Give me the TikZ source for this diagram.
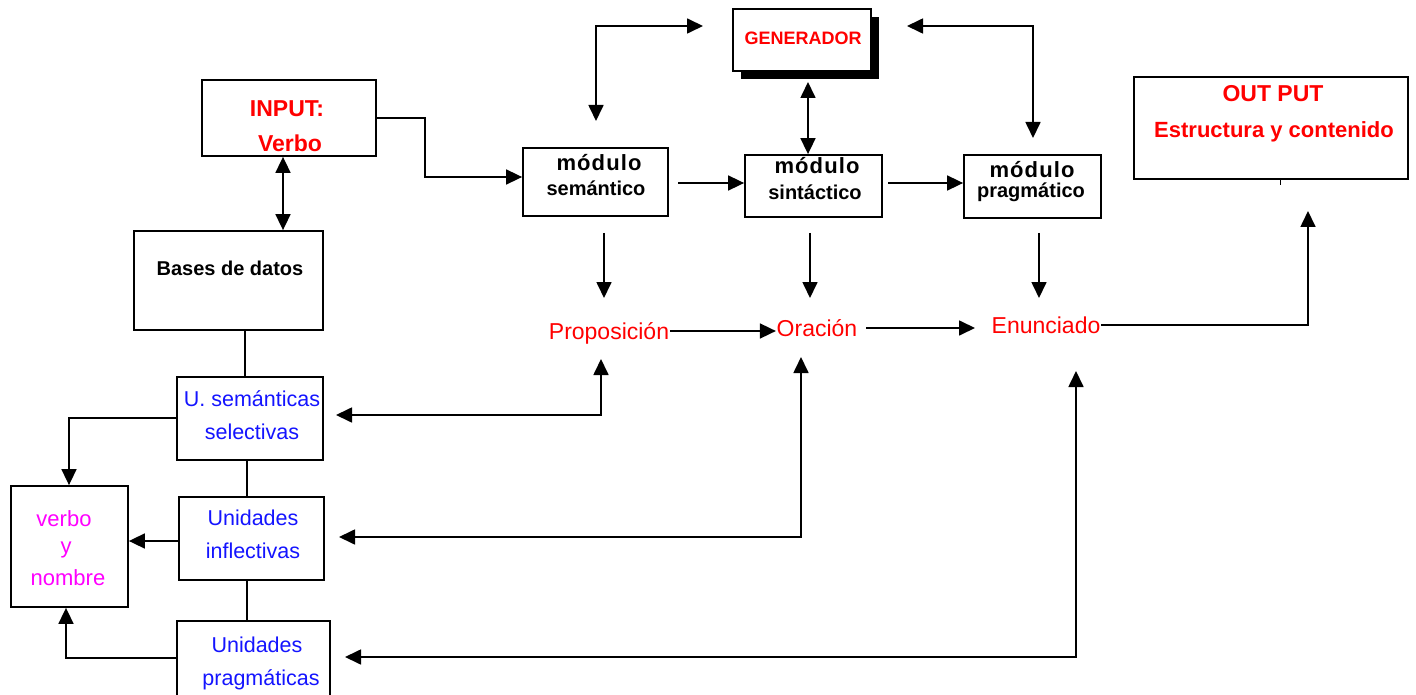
\documentclass[tikz,border=0pt]{standalone}
\usepackage{fontspec}
\setmainfont{Liberation Sans}
\newfontfamily\spacedbold[LetterSpace=5]{Liberation Sans}
\usetikzlibrary{arrows.meta}
\definecolor{txtred}{RGB}{255,0,0}
\definecolor{txtblue}{RGB}{20,20,255}
\definecolor{txtmag}{RGB}{255,0,255}
\begin{document}
\begin{tikzpicture}[x=1pt,y=-1pt,
  line width=1.7pt,
  box/.style={draw, line width=1.8pt, inner sep=0pt, minimum width=#1},
  tip/.style={-{Triangle[length=16pt,width=15pt]}},
  dtip/.style={{Triangle[length=16pt,width=15pt]}-{Triangle[length=16pt,width=15pt]}},
  boldlbl/.style={font=\fontsize{#1}{#1}\selectfont\bfseries, inner sep=0pt},
  redbold/.style={boldlbl=#1, text=txtred},
  bluelbl/.style={font=\fontsize{21.5}{21.5}\selectfont, text=txtblue, inner sep=0pt},
  maglbl/.style={font=\fontsize{22}{22}\selectfont, text=txtmag, inner sep=0pt},
  redlbl/.style={font=\fontsize{23}{23}\selectfont, text=txtred, inner sep=0pt},
  modlbl/.style={font=\fontsize{22}{22}\spacedbold\bfseries, inner sep=0pt}
]
\fill[white] (0,0) rectangle (1416,695);
\useasboundingbox (0,0) rectangle (1416,695);
\clip (0,0) rectangle (1416,695);

% --- boxes ---
\fill[black] (741,17) rectangle (879,79);
\node[box=138pt, minimum height=62pt, fill=white] (gen) at (802,40) {};
\node[box=174pt, minimum height=76pt] (inp) at (289,118) {};
\node[box=189pt, minimum height=99pt] (bases) at (228.5,280.5) {};
\node[box=145pt, minimum height=68pt] (sem) at (595.5,182) {};
\node[box=137pt, minimum height=62pt] (sin) at (813.5,186) {};
\node[box=137pt, minimum height=63pt] (pra) at (1032.5,186.5) {};
\node[box=274pt, minimum height=102pt] (out) at (1271,128) {};
\node[box=146pt, minimum height=83pt] (usem) at (250,418.5) {};
\node[box=145pt, minimum height=83pt] (uinf) at (251.5,538.5) {};
\node[box=153pt, minimum height=110pt] (uprag) at (253.5,676) {};
\node[box=117pt, minimum height=121pt] (vyn) at (69.5,546.5) {};

% --- texts in boxes ---
\node[redbold=18] (genT) at (803,38) {GENERADOR};
\node[redbold=23] (inpT1) at (287,109) {INPUT:};
\node[redbold=23] (inpT2) at (290,143) {Verbo};
\node[boldlbl=20] (basesT) at (230,268) {Bases de datos};
\node[modlbl] (semT1) at (599,163) {módulo};
\node[boldlbl=20] (semT2) at (596,188) {semántico};
\node[modlbl] (sinT1) at (817,166) {módulo};
\node[boldlbl=20] (sinT2) at (815,192) {sintáctico};
\node[modlbl] (praT1) at (1032,170) {módulo};
\node[boldlbl=20] (praT2) at (1031,192) {pragmático};
\node[redbold=23] (outT1) at (1273,94) {OUT PUT};
\node[redbold=22] (outT2) at (1274,132) {Estructura y contenido};
\node[bluelbl] (usemT1) at (252,399) {U. semánticas};
\node[bluelbl] (usemT2) at (252,432) {selectivas};
\node[bluelbl] (uinfT1) at (253,518) {Unidades};
\node[bluelbl] (uinfT2) at (253,551) {inflectivas};
\node[bluelbl] (upragT1) at (257,645) {Unidades};
\node[bluelbl] (upragT2) at (261,680) {pragmáticas};
\node[maglbl] (vynT1) at (64,519) {verbo};
\node[maglbl] (vynT2) at (66,550) {y};
\node[maglbl] (vynT3) at (68,578) {nombre};

% --- free-standing results ---
\node[redlbl] (prop) at (609,333) {Proposición};
\node[redlbl] (ora) at (817,328) {Oración};
\node[redlbl] (enu) at (1046,325) {Enunciado};

% --- connector end points ---
\coordinate (tlA) at (596,121);
\coordinate (tlB) at (703,26);
\coordinate (trA) at (907,26);
\coordinate (trB) at (1033,138);
\coordinate (semOut) at (678,183);
\coordinate (sinOut) at (888,183);
\coordinate (semDn) at (604,233);
\coordinate (sinDn) at (810,233);
\coordinate (praDn) at (1039,233);
\coordinate (semRes) at (604,298);
\coordinate (sinRes) at (810,298);
\coordinate (praRes) at (1039,298);
\coordinate (propUp) at (601,359);
\coordinate (oraUp) at (801,357);
\coordinate (enuUp) at (1076,371);
\coordinate (outIn) at (1308,211);
\coordinate (usemIn) at (336,415);
\coordinate (uinfIn) at (339,537);
\coordinate (upragIn) at (345,657);

% --- connectors ---
\draw[dtip] (inp.south -| 283,0) -- (bases.north -| 283,0);
\draw[tip] (inp.east) -- (425,118) -- (425,177) -- (sem.west |- 0,177);
\draw[tip] (semOut) -- (sin.west |- semOut);
\draw[tip] (sinOut) -- (pra.west |- sinOut);
\draw[dtip] (tlA) -- (596,26) -- (tlB);
\draw[dtip] (trA) -- (1033,26) -- (trB);
\draw[dtip] (808,82) -- (sin.north -| 808,0);
\draw[tip] (semDn) -- (semRes);
\draw[tip] (sinDn) -- (sinRes);
\draw[tip] (praDn) -- (praRes);
\draw[tip] (prop.east |- 0,331) -- (ora.west |- 0,331);
\draw[tip] (866,328) -- (975,328);
\draw[tip] (enu.east) -- (1308,325) -- (outIn);
\draw[line width=1pt] (out.south -| 1280,0) -- ++(0,5);

\draw (bases.south -| 245,0) -- (usem.north -| 245,0);
\draw (usem.south -| 247,0) -- (uinf.north -| 247,0);
\draw (uinf.south -| 247,0) -- (uprag.north -| 247,0);

\draw[tip] (usem.west |- 0,418) -- (69,418) -- (vyn.north -| 69,0);
\draw[tip] (uinf.west |- 0,541) -- (vyn.east |- 0,541);
\draw[tip] (uprag.west |- 0,658) -- (66,658) -- (vyn.south -| 66,0);

\draw[dtip] (propUp) -- (601,415) -- (usemIn);
\draw[dtip] (oraUp) -- (801,537) -- (uinfIn);
\draw[dtip] (enuUp) -- (1076,657) -- (upragIn);
\end{tikzpicture}
\end{document}
